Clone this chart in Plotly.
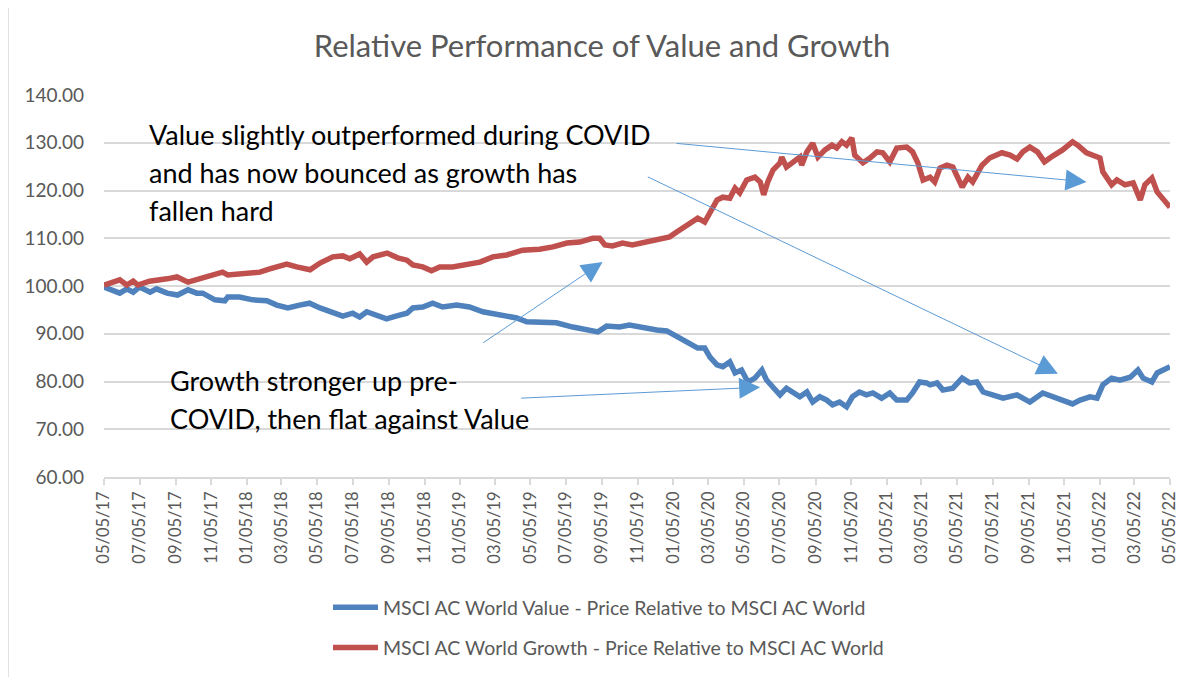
import plotly.graph_objects as go

# --- data ---
value_dates = [
    "2017-05-05", "2017-05-20", "2017-06-01", "2017-06-13", "2017-06-24", "2017-07-05",
    "2017-07-23", "2017-08-03", "2017-08-21", "2017-09-08", "2017-09-26", "2017-10-11",
    "2017-10-21", "2017-11-11", "2017-11-28", "2017-12-03", "2017-12-23", "2018-01-15",
    "2018-02-08", "2018-02-25", "2018-03-16", "2018-04-05", "2018-04-22", "2018-05-10",
    "2018-06-01", "2018-06-18", "2018-07-05", "2018-07-17", "2018-07-29", "2018-08-15",
    "2018-09-01", "2018-09-20", "2018-10-06", "2018-10-16", "2018-11-02", "2018-11-19",
    "2018-12-06", "2018-12-30", "2019-01-21", "2019-02-13", "2019-03-14", "2019-04-12",
    "2019-04-29", "2019-05-26", "2019-06-19", "2019-07-17", "2019-08-10", "2019-08-29",
    "2019-09-13", "2019-10-05", "2019-10-22", "2019-11-14", "2019-12-08", "2019-12-25",
    "2020-01-11", "2020-01-28", "2020-02-16", "2020-02-28", "2020-03-08", "2020-03-20",
    "2020-03-30", "2020-04-11", "2020-04-20", "2020-05-01", "2020-05-12", "2020-05-24",
    "2020-06-05", "2020-06-13", "2020-06-24", "2020-07-06", "2020-07-17", "2020-07-28",
    "2020-08-09", "2020-08-21", "2020-08-31", "2020-09-12", "2020-09-24", "2020-10-04",
    "2020-10-16", "2020-10-28", "2020-11-07", "2020-11-19", "2020-12-01", "2020-12-12",
    "2020-12-27", "2021-01-10", "2021-01-22", "2021-02-08", "2021-02-18", "2021-03-02",
    "2021-03-14", "2021-03-20", "2021-04-01", "2021-04-11", "2021-04-28", "2021-05-14",
    "2021-05-27", "2021-06-08", "2021-06-19", "2021-07-05", "2021-07-23", "2021-08-16",
    "2021-09-07", "2021-09-29", "2021-10-16", "2021-11-02", "2021-11-19", "2021-12-02",
    "2021-12-19", "2021-12-31", "2022-01-10", "2022-01-25", "2022-02-08", "2022-02-26",
    "2022-03-11", "2022-03-20", "2022-04-04", "2022-04-13", "2022-04-23", "2022-05-05",
]
value_vals = [
    99.8, 99.2, 98.5, 99.4, 98.7, 99.8,
    98.7, 99.4, 98.5, 98.1, 99.2, 98.5,
    98.5, 97.1, 96.9, 97.7, 97.7, 97.1,
    96.9, 96.0, 95.4, 96.0, 96.4, 95.4,
    94.3, 93.7, 94.3, 93.5, 94.6, 93.9,
    93.1, 93.8, 94.3, 95.4, 95.6, 96.4,
    95.6, 96.0, 95.6, 94.6, 93.9, 93.3,
    92.5, 92.5, 92.3, 91.4, 90.8, 90.4,
    91.6, 91.4, 91.8, 91.2, 90.8, 90.6,
    89.3, 88.3, 87.0, 87.0, 85.1, 83.5,
    83.1, 84.1, 81.8, 82.4, 79.9, 80.7,
    82.4, 80.3, 78.8, 77.2, 78.6, 77.8,
    76.8, 77.8, 75.7, 76.8, 76.1, 75.1,
    75.7, 74.7, 76.8, 77.8, 77.2, 77.6,
    76.5, 77.6, 76.1, 76.1, 77.6, 79.9,
    79.7, 79.3, 79.7, 78.2, 78.6, 80.7,
    79.7, 79.9, 77.8, 77.2, 76.5, 77.2,
    75.7, 77.6, 76.8, 76.1, 75.3, 76.1,
    76.8, 76.5, 79.3, 80.7, 80.3, 80.9,
    82.4, 80.7, 79.9, 81.8, 82.4, 83.1,
]

growth_dates = [
    "2017-05-05", "2017-06-01", "2017-06-13", "2017-06-24", "2017-07-02", "2017-07-22",
    "2017-08-21", "2017-09-07", "2017-09-26", "2017-10-16", "2017-11-02", "2017-11-24",
    "2017-12-03", "2017-12-29", "2018-01-27", "2018-02-13", "2018-03-14", "2018-03-31",
    "2018-04-23", "2018-05-10", "2018-06-01", "2018-06-18", "2018-06-30", "2018-07-17",
    "2018-07-29", "2018-08-09", "2018-09-02", "2018-09-20", "2018-10-06", "2018-10-16",
    "2018-11-02", "2018-11-17", "2018-12-01", "2018-12-23", "2019-01-16", "2019-02-08",
    "2019-03-02", "2019-03-26", "2019-04-22", "2019-05-21", "2019-06-13", "2019-07-07",
    "2019-07-29", "2019-08-20", "2019-09-01", "2019-09-10", "2019-09-23", "2019-10-10",
    "2019-10-27", "2019-11-20", "2019-12-13", "2019-12-30", "2020-01-11", "2020-01-28",
    "2020-02-16", "2020-02-28", "2020-03-08", "2020-03-20", "2020-03-30", "2020-04-11",
    "2020-04-20", "2020-04-28", "2020-05-10", "2020-05-24", "2020-06-02", "2020-06-08",
    "2020-06-15", "2020-06-24", "2020-07-06", "2020-07-09", "2020-07-17", "2020-07-28",
    "2020-08-09", "2020-08-12", "2020-08-21", "2020-08-31", "2020-09-09", "2020-09-21",
    "2020-10-03", "2020-10-11", "2020-10-20", "2020-10-28", "2020-11-06", "2020-11-11",
    "2020-11-25", "2020-12-07", "2020-12-19", "2020-12-29", "2021-01-10", "2021-01-22",
    "2021-02-08", "2021-02-18", "2021-02-27", "2021-03-08", "2021-03-20", "2021-03-28",
    "2021-04-06", "2021-04-18", "2021-04-28", "2021-05-14", "2021-05-24", "2021-06-01",
    "2021-06-17", "2021-06-30", "2021-07-21", "2021-08-04", "2021-08-16", "2021-08-26",
    "2021-09-07", "2021-09-20", "2021-10-02", "2021-10-16", "2021-11-02", "2021-11-19",
    "2021-11-28", "2021-12-13", "2021-12-24", "2022-01-05", "2022-01-10", "2022-01-25",
    "2022-02-03", "2022-02-17", "2022-03-03", "2022-03-15", "2022-03-23", "2022-04-04",
    "2022-04-13", "2022-04-23", "2022-05-05",
]
growth_vals = [
    100.2, 101.3, 100.2, 101.0, 100.2, 101.0,
    101.5, 101.9, 100.8, 101.5, 101.9, 102.9,
    102.3, 102.5, 102.9, 103.6, 104.6, 104.0,
    103.4, 104.8, 106.1, 106.3, 105.7, 106.7,
    105.0, 106.1, 106.9, 105.9, 105.4, 104.4,
    104.0, 103.2, 104.0, 104.0, 104.4, 105.0,
    106.1, 106.5, 107.5, 107.7, 108.2, 109.0,
    109.2, 110.0, 110.0, 108.6, 108.4, 109.0,
    108.6, 109.2, 109.8, 110.3, 111.3, 112.6,
    114.2, 113.4, 115.3, 118.0, 118.6, 118.4,
    120.5, 119.5, 122.2, 122.8, 121.8, 119.1,
    121.8, 124.3, 125.8, 127.0, 124.9, 126.0,
    127.0, 125.3, 128.1, 129.9, 127.0, 128.5,
    129.5, 128.9, 130.2, 129.5, 131.0, 127.4,
    125.8, 126.8, 128.1, 127.9, 126.0, 128.9,
    129.1, 128.1, 125.8, 122.2, 122.8, 121.8,
    124.7, 125.3, 124.9, 120.7, 122.8, 121.8,
    125.3, 126.8, 127.9, 127.4, 126.6, 128.1,
    129.1, 128.1, 126.0, 127.2, 128.5, 130.2,
    129.5, 127.9, 127.4, 126.8, 123.9, 121.2,
    122.2, 121.2, 121.6, 118.0, 121.2, 122.6,
    119.7, 118.4, 116.5,
]

tick_dates = [
    "2017-05-05", "2017-07-05", "2017-09-05", "2017-11-05", "2018-01-05", "2018-03-05",
    "2018-05-05", "2018-07-05", "2018-09-05", "2018-11-05", "2019-01-05", "2019-03-05",
    "2019-05-05", "2019-07-05", "2019-09-05", "2019-11-05", "2020-01-05", "2020-03-05",
    "2020-05-05", "2020-07-05", "2020-09-05", "2020-11-05", "2021-01-05", "2021-03-05",
    "2021-05-05", "2021-07-05", "2021-09-05", "2021-11-05", "2022-01-05", "2022-03-05",
    "2022-05-05",
]
# US style month/day/year labels, as on the source chart
tick_text = [d[5:7] + "/" + d[8:10] + "/" + d[2:4] for d in tick_dates]

TITLE = "Relative Performance of Value and Growth"
NAME_VALUE = "MSCI AC World Value - Price Relative to MSCI AC World"
NAME_GROWTH = "MSCI AC World Growth - Price Relative to MSCI AC World"
NOTE_TOP = ["Value slightly outperformed during COVID",
            "and has now bounced as growth has",
            "fallen hard"]
NOTE_BOTTOM = ["Growth stronger up pre-",
               "COVID, then flat against Value"]

# --- layout helpers ---
# the page body has an 8px margin, so the figure sits 8px right/down in the window
OFF = 8
W, H = 1192 - OFF, 677 - OFF
# plot area edges in window pixels
L, R, T, B = 104, 1170, 95, 477


def px_x(px):
    return (px - L) / (R - L)


def px_y(py):
    return (B - py) / (B - T)


FONT = "Lato"
GREY = "#595959"
GRID = "#D9D9D9"
ARROW = "#5B9BD5"

fig = go.Figure()
fig.add_trace(go.Scatter(
    x=value_dates, y=value_vals, mode="lines", name=NAME_VALUE, legendgroup="v",
    line=dict(color="#4F81BD", width=5.5),
))
fig.add_trace(go.Scatter(
    x=growth_dates, y=growth_vals, mode="lines", name=NAME_GROWTH, legendgroup="g",
    line=dict(color="#C0504D", width=5.5),
))

shapes = [
    # chart-area border (left and top edges visible)
    dict(type="line", xref="paper", yref="paper", x0=px_x(8), x1=px_x(8),
         y0=px_y(7), y1=px_y(700), line=dict(color=GRID, width=1.5)),
    dict(type="line", xref="paper", yref="paper", x0=px_x(8), x1=px_x(1200),
         y0=px_y(7), y1=px_y(7), line=dict(color=GRID, width=1.5)),
    # white text boxes hiding the gridlines
    dict(type="rect", xref="paper", yref="paper", layer="between",
         x0=px_x(130), x1=px_x(675), y0=px_y(232), y1=px_y(108),
         fillcolor="white", line=dict(width=0)),
    dict(type="rect", xref="paper", yref="paper", layer="between",
         x0=px_x(150), x1=px_x(551), y0=px_y(462), y1=px_y(350),
         fillcolor="white", line=dict(width=0)),
]

annotations = []
for i, line in enumerate(NOTE_TOP):
    annotations.append(dict(
        text=line, xref="paper", yref="paper", x=px_x(147), y=px_y(134 + 38 * i),
        xanchor="left", yanchor="middle", showarrow=False,
        font=dict(family=FONT, size=27, color="black"),
    ))
for i, line in enumerate(NOTE_BOTTOM):
    annotations.append(dict(
        text=line, xref="paper", yref="paper", x=px_x(168), y=px_y(380 + 38 * i),
        xanchor="left", yanchor="middle", showarrow=False,
        font=dict(family=FONT, size=27, color="black"),
    ))

# arrows: (tail date, tail value, head date, head value)
arrows = [
    ("2020-01-08", 129.9, "2021-12-13", 121.8),
    ("2019-11-20", 123.0, "2021-10-25", 81.6),
    ("2019-02-11", 87.9, "2019-09-06", 105.0),
    ("2019-04-17", 76.5, "2020-06-02", 78.8),
]
for ax_, ay_, x_, y_ in arrows:
    annotations.append(dict(
        x=x_, y=y_, ax=ax_, ay=ay_, xref="x", yref="y", axref="x", ayref="y",
        text="", showarrow=True, arrowhead=2, arrowsize=4.2, arrowwidth=1,
        arrowcolor=ARROW, standoff=0,
    ))

fig.update_layout(
    width=W, height=H,
    margin=dict(l=L - OFF, r=W - (R - OFF), t=T - OFF, b=H - (B - OFF), autoexpand=False),
    paper_bgcolor="white", plot_bgcolor="white",
    font=dict(family=FONT, color=GREY),
    title=dict(text=TITLE, x=(602 - OFF) / W, xref="container", xanchor="center",
               y=1 - (46 - OFF) / H, yref="container", yanchor="middle",
               font=dict(family=FONT, size=31, color=GREY)),
    xaxis=dict(
        type="date", range=[tick_dates[0], tick_dates[-1]], automargin=False,
        tickmode="array", tickvals=tick_dates, ticktext=tick_text, tickangle=-90,
        tickfont=dict(family=FONT, size=16.5, color=GREY),
        ticks="outside", ticklen=6, tickcolor=GRID, tickwidth=1.5,
        showline=True, linecolor=GRID, linewidth=1.5,
        showgrid=False, zeroline=False,
    ),
    yaxis=dict(
        range=[60, 140], dtick=10, tick0=60, tickformat=".2f", automargin=False,
        tickfont=dict(family=FONT, size=19, color=GREY),
        showgrid=True, gridcolor=GRID, gridwidth=1.5,
        zeroline=False, showline=False, ticklabelstandoff=19,
    ),
    showlegend=True,
    legend=dict(
        x=px_x(328), y=px_y(588), xanchor="left", yanchor="top",
        orientation="v", traceorder="grouped", tracegroupgap=12,
        font=dict(family=FONT, size=19.5, color=GREY),
        bgcolor="rgba(0,0,0,0)", itemwidth=45,
    ),
    shapes=shapes,
    annotations=annotations,
)

fig.write_html("out.html")
